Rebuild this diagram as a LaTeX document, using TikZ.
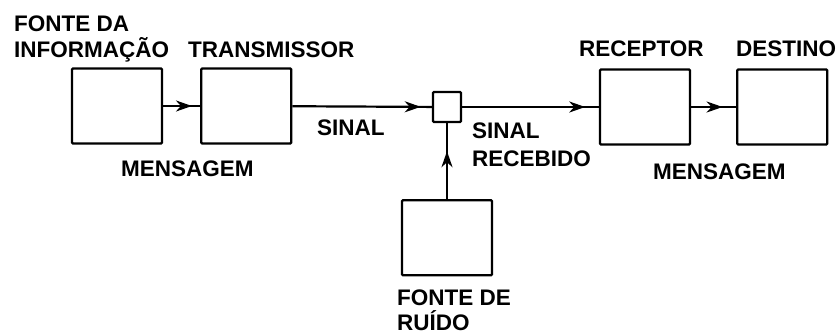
\documentclass[tikz,border=0pt]{standalone}
\usepackage{fontspec}
\setmainfont{Liberation Sans}
\usepackage{tikz}
\usetikzlibrary{arrows.meta, positioning, decorations.markings}

\begin{document}
\begin{tikzpicture}[
  x=1pt, y=1pt,
  line width=2.2pt,
  >={Stealth[length=16pt, width=11pt, inset=5pt]},
  block/.style = {draw, rectangle, rounded corners=1pt, minimum height=75pt, minimum width=90pt},
  junc/.style  = {draw, rectangle, rounded corners=1pt, minimum height=30pt, minimum width=28pt},
  lbl/.style   = {font=\fontsize{22.5}{26}\selectfont\bfseries, inner sep=0pt, anchor=base west, align=left},
  arrowat/.style = {postaction={decorate}, decoration={markings, mark=at position #1 with {\arrow{>}}}},
]
  \useasboundingbox (0,0) rectangle (839,-335);

  \node[block] at (117,-106)          (fonte)    {};
  \node[block, right=37pt of fonte]   (trans)    {};
  \node[junc]  at (447,-107)          (soma)     {};
  \node[block] at (645,-107)          (receptor) {};
  \node[block, right=45pt of receptor] (destino) {};
  \node[block, below=76pt of soma]    (ruido)    {};

  % labels
  \node[lbl] at (13,-31)   (tfonte)  {FONTE DA};
  \node[lbl] at (13,-57)   (tinfo)   {INFORMAÇÃO};
  \node[lbl] at (187,-57)  (ttrans)  {TRANSMISSOR};
  \node[lbl] at (578,-56)  (trec)    {RECEPTOR};
  \node[lbl] at (735,-56)  (tdest)   {DESTINO};
  \node[lbl] at (316,-135) (tsinal)  {SINAL};
  \node[lbl] at (120,-176) (tmsg)    {MENSAGEM};
  \node[lbl] at (471,-138) (tsrec)   {SINAL};
  \node[lbl] at (471,-166) (tsrec2)  {RECEBIDO};
  \node[lbl] at (652,-179) (tmsg2)   {MENSAGEM};
  \node[lbl] at (396,-305) (truido)  {FONTE DE};
  \node[lbl] at (396,-330) (truido2) {RUÍDO};

  \draw[arrowat=0.78] (fonte)    -- (trans);
  \draw[arrowat=0.92] (trans)    -- (soma);
  \draw[arrowat=0.9]  (soma)     -- (receptor);
  \draw[arrowat=0.7]  (receptor) -- (destino);
  \draw[arrowat=0.63] (ruido)    -- (soma);
\end{tikzpicture}
\end{document}
